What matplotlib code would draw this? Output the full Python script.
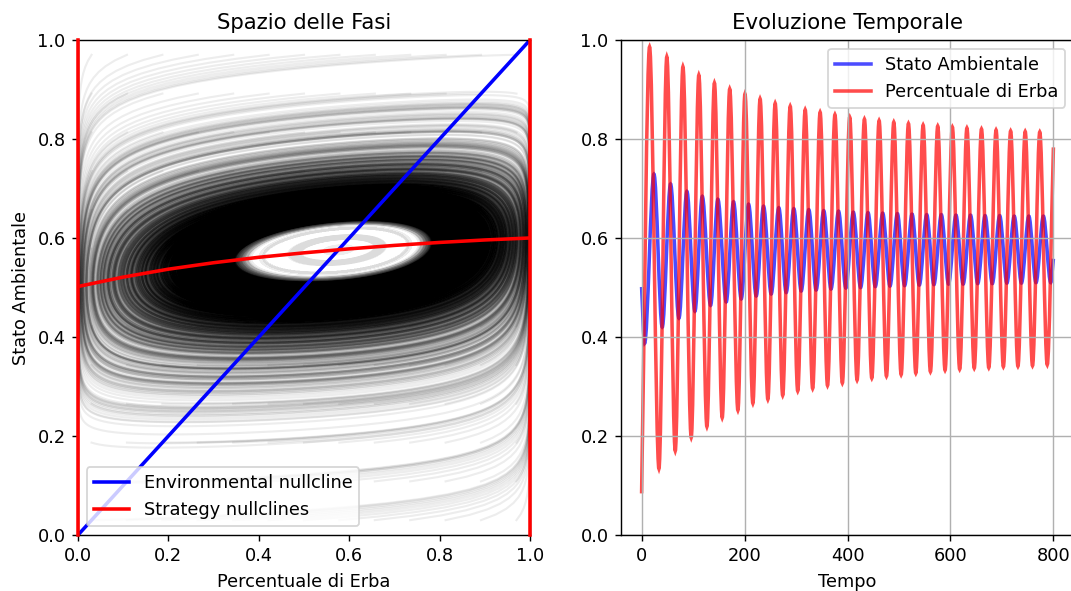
import numpy as np
import matplotlib
matplotlib.use("Agg")
import matplotlib.pyplot as plt
from matplotlib.path import Path
from matplotlib.patches import PathPatch
from matplotlib.lines import Line2D

# strategy nullcline (x = Percentuale di Erba, n = Stato Ambientale)
null_x = [0.0, 0.1, 0.2, 0.3, 0.4, 0.5, 0.6, 0.7, 0.8, 0.9, 1.0]
null_n = [0.502, 0.521, 0.537, 0.550, 0.561, 0.570, 0.578, 0.585, 0.591, 0.596, 0.600]

# phase portrait: rates of the two equations, run length, starting grid
rate_strategy = 3.535
rate_env = 0.0654
t_end = 800.0
start_x = np.linspace(0.03, 0.97, 13)
start_n = np.linspace(0.03, 0.97, 13)

# time series
tempo_end = 800.0
erba_start, erba_end = 0.084, 0.783
erba_peak_t = [15.5, 49.0, 80.3, 111.2, 141.5, 171.2, 200.8, 230.2, 259.5, 288.7, 317.8, 346.8, 375.6, 404.3,
               432.9, 461.4, 489.9, 518.4, 546.9, 575.3, 603.7, 632.0, 660.3, 688.6, 716.9, 745.2, 773.5]
erba_peak_v = [0.986, 0.966, 0.946, 0.929, 0.913, 0.901, 0.891, 0.881, 0.872, 0.866, 0.859, 0.854, 0.849, 0.844,
               0.840, 0.837, 0.834, 0.831, 0.828, 0.826, 0.824, 0.822, 0.820, 0.818, 0.816, 0.815, 0.814]
erba_trough_t = [33.7, 65.4, 96.4, 126.9, 156.6, 187.1, 216.2, 245.3, 274.1, 303.3, 332.3, 361.2, 390.0, 418.6,
                 447.2, 475.7, 504.2, 532.7, 561.1, 589.5, 617.9, 646.2, 674.5, 702.8, 731.1, 759.4, 788.0]
erba_trough_v = [0.134, 0.170, 0.197, 0.219, 0.237, 0.252, 0.266, 0.274, 0.282, 0.291, 0.296, 0.302, 0.307, 0.313,
                 0.317, 0.321, 0.324, 0.327, 0.330, 0.333, 0.335, 0.337, 0.338, 0.340, 0.341, 0.342, 0.344]

amb_start, amb_end = 0.501, 0.558
amb_peak_t = [24.0, 56.3, 88.0, 117.9, 148.2, 178.6, 207.8, 236.9, 266.5, 295.7, 324.8, 353.8, 382.6, 411.3,
              439.9, 468.4, 496.9, 525.4, 553.9, 582.3, 610.7, 639.0, 667.3, 695.6, 723.9, 752.2, 780.5]
amb_peak_v = [0.729, 0.709, 0.694, 0.684, 0.678, 0.673, 0.668, 0.664, 0.661, 0.659, 0.657, 0.655, 0.654, 0.652,
              0.651, 0.650, 0.649, 0.648, 0.647, 0.647, 0.646, 0.646, 0.645, 0.645, 0.644, 0.644, 0.644]
amb_trough_t = [5.8, 40.1, 72.5, 103.6, 134.0, 164.4, 193.6, 222.7, 251.8, 280.9, 310.1, 339.1, 368.0, 396.8,
                425.4, 454.0, 482.5, 511.0, 539.5, 567.9, 596.3, 624.7, 653.0, 681.3, 709.6, 737.9, 766.2, 794.8]
amb_trough_v = [0.387, 0.420, 0.438, 0.452, 0.464, 0.471, 0.477, 0.483, 0.487, 0.490, 0.493, 0.495, 0.497, 0.499,
                0.500, 0.502, 0.503, 0.504, 0.505, 0.506, 0.507, 0.507, 0.508, 0.508, 0.509, 0.509, 0.510, 0.510]


def field(x, n):
    nstar = np.interp(x, null_x, null_n)
    return rate_strategy * x * (1 - x) * (nstar - n), rate_env * (x - n)


def integrate(x, n, dt=0.1, keep=2):
    xs, ns = [x.copy()], [n.copy()]
    for i in range(int(t_end / dt)):
        k1x, k1n = field(x, n)
        k2x, k2n = field(x + dt / 2 * k1x, n + dt / 2 * k1n)
        k3x, k3n = field(x + dt / 2 * k2x, n + dt / 2 * k2n)
        k4x, k4n = field(x + dt * k3x, n + dt * k3n)
        x = x + dt / 6 * (k1x + 2 * k2x + 2 * k3x + k4x)
        n = n + dt / 6 * (k1n + 2 * k2n + 2 * k3n + k4n)
        if (i + 1) % keep == 0:
            xs.append(x.copy())
            ns.append(n.copy())
    return np.array(xs), np.array(ns)


def wave_path(t0, v0, peak_t, peak_v, trough_t, trough_v, t1, v1):
    # smooth curve through the read extrema (flat tangent at every extremum)
    knots = sorted(zip(peak_t + trough_t, peak_v + trough_v))
    kt = [t0] + [k[0] for k in knots] + [t1]
    kv = [v0] + [k[1] for k in knots] + [v1]
    verts, codes = [(kt[0], kv[0])], [Path.MOVETO]
    last = len(kt) - 2
    for i in range(len(kt) - 1):
        a, b, va, vb = kt[i], kt[i + 1], kv[i], kv[i + 1]
        d = b - a
        c1 = va if i > 0 else va + (vb - va) / 3
        c2 = vb if i < last else vb - (vb - va) / 3
        verts += [(a + d / 3, c1), (b - d / 3, c2), (b, vb)]
        codes += [Path.CURVE4] * 3
    return Path(verts, codes)


fig = plt.figure(figsize=(8.4, 4.6355), dpi=127.5)
ax1 = fig.add_axes([78 / 1071, 56 / 591, 452 / 1071, 495 / 591])
ax2 = fig.add_axes([621 / 1071, 56 / 591, 453 / 1071, 495 / 591])

# Phase space
gx, gn = np.meshgrid(start_x, start_n)
X, N = integrate(gx.ravel(), gn.ravel())
ax1.plot(X, N, color='k', alpha=0.07, lw=1.2)
ax1.plot([0, 1], [0, 1], color='b', lw=2, label='Environmental nullcline')
ax1.plot(null_x, null_n, color='r', lw=2, label='Strategy nullclines')
ax1.plot([0, 0], [0, 1], color='r', lw=2, clip_on=False, zorder=3)
ax1.plot([1, 1], [0, 1], color='r', lw=2, clip_on=False, zorder=3)
ax1.set_xlim(0, 1)
ax1.set_ylim(0, 1)
ax1.set_title('Spazio delle Fasi')
ax1.set_xlabel('Percentuale di Erba')
ax1.set_ylabel('Stato Ambientale')
ax1.legend(loc='lower left')

# Time evolution
ax2.add_patch(PathPatch(wave_path(0.0, amb_start, amb_peak_t, amb_peak_v, amb_trough_t, amb_trough_v,
                                  tempo_end, amb_end), fill=False, edgecolor='b', alpha=0.7, lw=2))
ax2.add_patch(PathPatch(wave_path(0.0, erba_start, erba_peak_t, erba_peak_v, erba_trough_t, erba_trough_v,
                                  tempo_end, erba_end), fill=False, edgecolor='r', alpha=0.7, lw=2))
ax2.set_xlim(-40, 840)
ax2.set_ylim(0, 1)
ax2.grid(True)
ax2.set_title('Evoluzione Temporale')
ax2.set_xlabel('Tempo')
ax2.legend(handles=[Line2D([], [], color='b', alpha=0.7, lw=2, label='Stato Ambientale'),
                    Line2D([], [], color='r', alpha=0.7, lw=2, label='Percentuale di Erba')],
           loc='upper right')

fig.savefig('out.png', dpi=127.5)
